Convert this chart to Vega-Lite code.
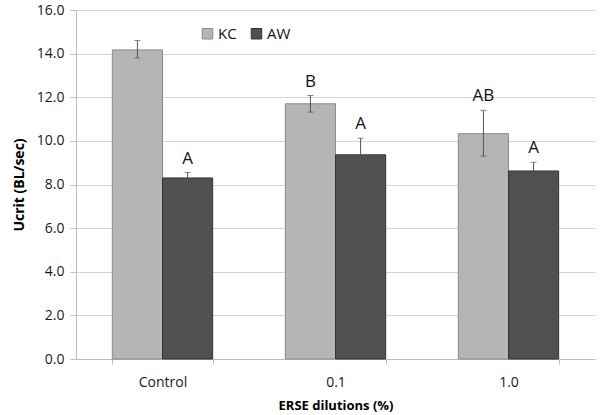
{
  "$schema": "https://vega.github.io/schema/vega-lite/v6.json",
  "autosize": {"type": "none"},
  "padding": {"left": 76, "top": 10, "right": 5, "bottom": 56},
  "width": 519,
  "height": 349,
  "background": "white",
  "config": {
    "font": "Open Sans",
    "view": {"stroke": null}
  },
  "data": {
    "values": [
      {"dilution": "Control", "group": "KC", "value": 14.17, "lo": 13.8, "hi": 14.6, "letter": ""},
      {"dilution": "Control", "group": "AW", "value": 8.3, "lo": 8.07, "hi": 8.55, "letter": "A"},
      {"dilution": "0.1", "group": "KC", "value": 11.7, "lo": 11.32, "hi": 12.08, "letter": "B"},
      {"dilution": "0.1", "group": "AW", "value": 9.36, "lo": 8.56, "hi": 10.12, "letter": "A"},
      {"dilution": "1.0", "group": "KC", "value": 10.33, "lo": 9.3, "hi": 11.4, "letter": "AB"},
      {"dilution": "1.0", "group": "AW", "value": 8.62, "lo": 8.26, "hi": 9.02, "letter": "A"}
    ]
  },
  "encoding": {
    "x": {
      "field": "dilution",
      "type": "nominal",
      "sort": ["Control", "0.1", "1.0"],
      "scale": {"paddingInner": 0.42, "paddingOuter": 0.21},
      "axis": {
        "title": "ERSE dilutions (%)",
        "titleFont": "Open Sans",
        "titleFontSize": 13,
        "titleFontWeight": "bold",
        "titleColor": "#000",
        "titlePadding": 10,
        "labelFontSize": 14,
        "labelColor": "#1a1a1a",
        "labelAngle": 0,
        "labelPadding": 11,
        "domainColor": "#bdbdbd",
        "tickColor": "#bdbdbd",
        "tickBand": "extent",
        "tickSize": 5
      }
    },
    "xOffset": {"field": "group", "type": "nominal", "scale": {"domain": ["KC", "AW"]}}
  },
  "layer": [
    {
      "mark": {"type": "bar", "strokeWidth": 1},
      "encoding": {
        "y": {
          "field": "value",
          "type": "quantitative",
          "scale": {"domain": [0, 16], "nice": false},
          "axis": {
            "title": "Ucrit (BL/sec)",
            "titleFontSize": 14,
            "titleFontWeight": "bold",
            "titleColor": "#000",
            "titlePadding": 10,
            "values": [0, 2, 4, 6, 8, 10, 12, 14, 16],
            "format": ".1f",
            "labelFontSize": 14,
            "labelColor": "#1a1a1a",
            "labelPadding": 6,
            "gridColor": "#d4d4d4",
            "domainColor": "#bdbdbd",
            "tickColor": "#bdbdbd",
            "tickSize": 6
          }
        },
        "color": {
          "field": "group",
          "type": "nominal",
          "scale": {"domain": ["KC", "AW"], "range": ["#b5b5b5", "#505050"]},
          "legend": {
            "title": null,
            "orient": "none",
            "direction": "horizontal",
            "legendX": 124,
            "legendY": 16,
            "symbolType": "square",
            "symbolSize": 110,
            "symbolStrokeColor": "#777",
            "symbolStrokeWidth": 1,
            "labelFontSize": 15,
            "labelColor": "#111",
            "labelOffset": 3,
            "columnPadding": 12
          }
        },
        "stroke": {
          "field": "group",
          "type": "nominal",
          "scale": {"domain": ["KC", "AW"], "range": ["#8a8a8a", "#333333"]},
          "legend": null
        }
      }
    },
    {
      "mark": {"type": "rule", "color": "#555", "strokeWidth": 1},
      "encoding": {
        "y": {"field": "lo", "type": "quantitative"},
        "y2": {"field": "hi"}
      }
    },
    {
      "mark": {"type": "tick", "color": "#555", "thickness": 1, "size": 6},
      "encoding": {"y": {"field": "lo", "type": "quantitative"}}
    },
    {
      "mark": {"type": "tick", "color": "#555", "thickness": 1, "size": 6},
      "encoding": {"y": {"field": "hi", "type": "quantitative"}}
    },
    {
      "mark": {"type": "text", "baseline": "bottom", "dy": -5, "fontSize": 17, "color": "#111"},
      "encoding": {
        "y": {"field": "hi", "type": "quantitative"},
        "text": {"field": "letter"}
      }
    }
  ]
}
